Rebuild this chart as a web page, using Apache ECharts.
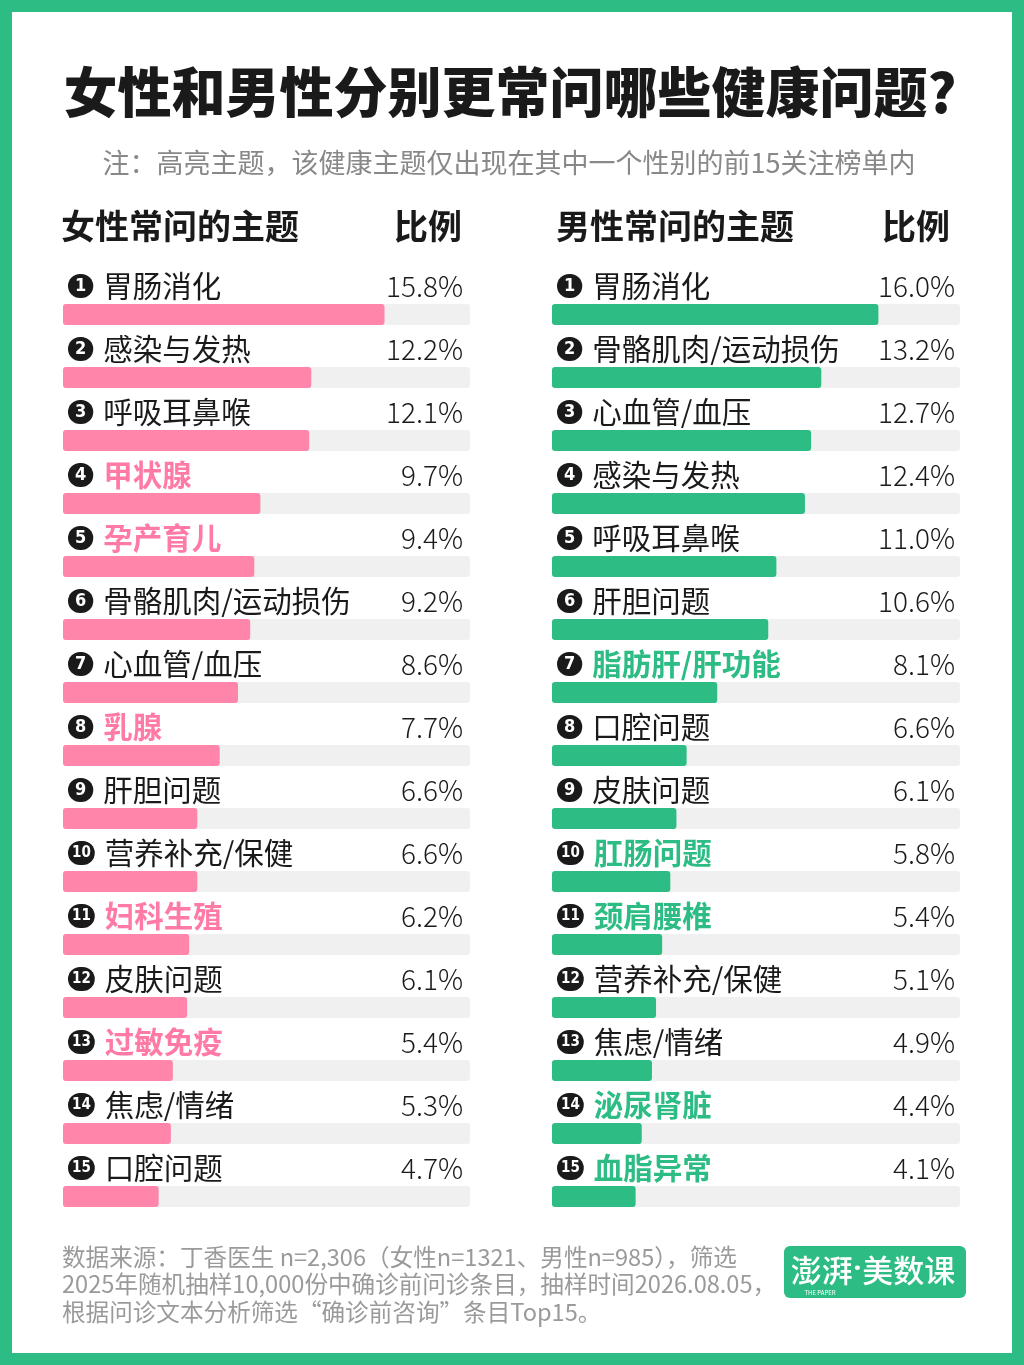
<!DOCTYPE html>
<html>
<head>
<meta charset="utf-8">
<style>
  html, body { margin: 0; padding: 0; background: #2dbd84; }
  #chart { width: 1024px; height: 1365px; }
</style>
<script src="https://cdn.jsdelivr.net/npm/echarts@6/dist/echarts.min.js"></script>
</head>
<body>
<div id="chart"></div>
<script>
// 数据
var femaleTopics = ['胃肠消化', '感染与发热', '呼吸耳鼻喉', '甲状腺', '孕产育儿', '骨骼肌肉/运动损伤', '心血管/血压',
  '乳腺', '肝胆问题', '营养补充/保健', '妇科生殖', '皮肤问题', '过敏免疫', '焦虑/情绪', '口腔问题'];
var femaleValues = [15.8, 12.2, 12.1, 9.7, 9.4, 9.2, 8.6, 7.7, 6.6, 6.6, 6.2, 6.1, 5.4, 5.3, 4.7];
var femaleOnly = ['甲状腺', '孕产育儿', '乳腺', '妇科生殖', '过敏免疫'];

var maleTopics = ['胃肠消化', '骨骼肌肉/运动损伤', '心血管/血压', '感染与发热', '呼吸耳鼻喉', '肝胆问题', '脂肪肝/肝功能',
  '口腔问题', '皮肤问题', '肛肠问题', '颈肩腰椎', '营养补充/保健', '焦虑/情绪', '泌尿肾脏', '血脂异常'];
var maleValues = [16.0, 13.2, 12.7, 12.4, 11.0, 10.6, 8.1, 6.6, 6.1, 5.8, 5.4, 5.1, 4.9, 4.4, 4.1];
var maleOnly = ['脂肪肝/肝功能', '肛肠问题', '颈肩腰椎', '泌尿肾脏', '血脂异常'];

var axisMax = 20;

var PINK = '#ff85aa';
var PINK_TEXT = '#ff7ba6';
var GREEN = '#2dbd84';
var FONT = '"Noto Sans CJK SC", "Noto Sans", sans-serif';
var NARROW = '"Liberation Sans Narrow", "DejaVu Sans Condensed", Roboto, sans-serif';

function richFor(hlColor) {
  return {
    c1: { backgroundColor: '#1a1a1a', color: '#fff', fontSize: 18, fontWeight: 'bold', fontFamily: NARROW,
      height: 24, lineHeight: 24, padding: [0, 7, 0, 7], borderRadius: 12 },
    c2: { backgroundColor: '#1a1a1a', color: '#fff', fontSize: 15, fontWeight: 'bold', fontFamily: NARROW,
      letterSpacing: -1, height: 24, lineHeight: 24, padding: [0, 4, 0, 4], borderRadius: 12 },
    g: { width: 10 },
    n: { color: '#1a1a1a', fontSize: 29.5, fontFamily: FONT },
    h: { color: hlColor, fontSize: 29.5, fontWeight: 'bold', fontFamily: FONT },
    v: { color: '#1a1a1a', fontSize: 28, fontWeight: 300, fontFamily: FONT, align: 'right' }
  };
}

function makeSeries(idx, topics, values, highlight, color, hlColor, labelWidth) {
  return {
    type: 'bar',
    xAxisIndex: idx,
    yAxisIndex: idx,
    data: values,
    barWidth: 21,
    itemStyle: { color: color, borderRadius: 3 },
    showBackground: true,
    backgroundStyle: { color: '#f0f0f0', borderRadius: 3 },
    silent: true,
    label: {
      show: true,
      position: [5, -18],
      align: 'left',
      verticalAlign: 'middle',
      width: labelWidth,
      overflow: 'none',
      lineHeight: 30,
      formatter: function (p) {
        var num = p.dataIndex + 1;
        var circle = num < 10 ? '{c1|' + num + '}' : '{c2|' + num + '}';
        var name = topics[p.dataIndex];
        var nameTag = highlight.indexOf(name) >= 0 ? 'h' : 'n';
        return circle + '{g| }{' + nameTag + '|' + name + '}{v|' + values[p.dataIndex].toFixed(1) + '%}';
      },
      rich: richFor(hlColor)
    }
  };
}

var chart = echarts.init(document.getElementById('chart'), null, { renderer: 'canvas' });

var option = {
  backgroundColor: GREEN,
  animation: false,
  grid: [
    { left: 63, top: 283, width: 407, height: 945 },
    { left: 552, top: 283, width: 408, height: 945 }
  ],
  xAxis: [
    { type: 'value', gridIndex: 0, min: 0, max: axisMax, show: false },
    { type: 'value', gridIndex: 1, min: 0, max: axisMax, show: false }
  ],
  yAxis: [
    { type: 'category', gridIndex: 0, data: femaleTopics, inverse: true, show: false },
    { type: 'category', gridIndex: 1, data: maleTopics, inverse: true, show: false }
  ],
  graphic: [
    { type: 'rect', z: -10, shape: { x: 12, y: 12, width: 1000, height: 1341 }, style: { fill: '#fff' } },
    { type: 'text', x: 510, y: 92, style: {
      text: '女性和男性分别更常问哪些健康问题?', fontSize: 54, fontWeight: 900, fill: '#1a1a1a', fontFamily: FONT,
      align: 'center', verticalAlign: 'middle' } },
    { type: 'text', x: 509, y: 163, style: {
      text: '注：高亮主题，该健康主题仅出现在其中一个性别的前15关注榜单内', fontSize: 27, fill: '#888', fontFamily: FONT,
      align: 'center', verticalAlign: 'middle' } },
    { type: 'text', x: 61, y: 226, style: { text: '女性常问的主题', fontSize: 34, fontWeight: 'bold',
      fill: '#1a1a1a', fontFamily: FONT, verticalAlign: 'middle' } },
    { type: 'text', x: 462, y: 226, style: { text: '比例', fontSize: 34, fontWeight: 'bold',
      fill: '#1a1a1a', fontFamily: FONT, align: 'right', verticalAlign: 'middle' } },
    { type: 'text', x: 556, y: 226, style: { text: '男性常问的主题', fontSize: 34, fontWeight: 'bold',
      fill: '#1a1a1a', fontFamily: FONT, verticalAlign: 'middle' } },
    { type: 'text', x: 950, y: 226, style: { text: '比例', fontSize: 34, fontWeight: 'bold',
      fill: '#1a1a1a', fontFamily: FONT, align: 'right', verticalAlign: 'middle' } },
    { type: 'text', x: 62, y: 1243, style: {
      text: '数据来源：丁香医生 n=2,306（女性n=1321、男性n=985），筛选\n2025年随机抽样10,000份中确诊前问诊条目，抽样时间2026.08.05，\n根据问诊文本分析筛选“确诊前咨询”条目Top15。',
      fontSize: 23.6, lineHeight: 27.5, fill: '#9a9a9a', fontFamily: FONT } },
    // 澎湃·美数课 logo
    { type: 'rect', shape: { x: 784, y: 1246, width: 182, height: 52, r: 6 }, style: { fill: GREEN } },
    { type: 'text', x: 873, y: 1270, style: {
      text: '{a|澎湃}{d|·}{a|美数课}', align: 'center', verticalAlign: 'middle',
      rich: {
        a: { fontSize: 31, fill: '#fff', fontFamily: FONT, fontWeight: 500 },
        d: { fontSize: 31, fill: '#fff', fontFamily: 'Roboto, sans-serif', fontWeight: 'bold' }
      } } },
    { type: 'text', x: 820, y: 1293, style: { text: 'THE PAPER', fontSize: 6, fill: '#fff',
      fontFamily: FONT, align: 'center', verticalAlign: 'middle' } }
  ],
  series: [
    makeSeries(0, femaleTopics, femaleValues, femaleOnly, PINK, PINK_TEXT, 395),
    makeSeries(1, maleTopics, maleValues, maleOnly, GREEN, GREEN, 398)
  ]
};

chart.setOption(option);
</script>
</body>
</html>
